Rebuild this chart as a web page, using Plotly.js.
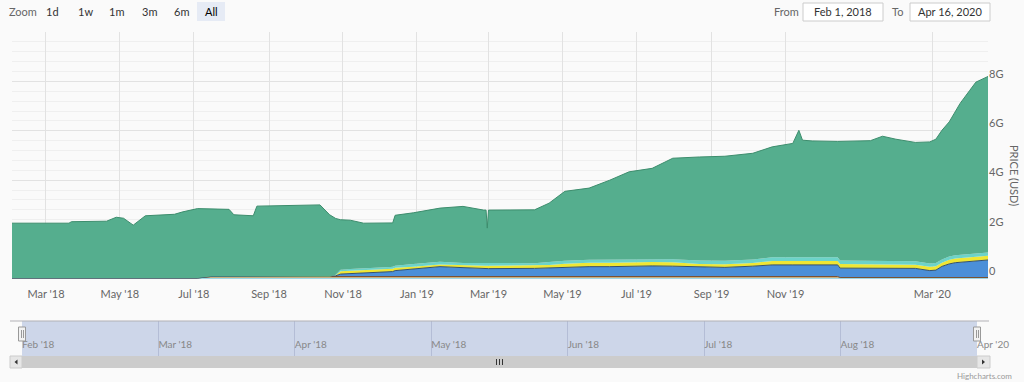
<!DOCTYPE html>
<html><head><meta charset="utf-8">
<script src="https://cdn.plot.ly/plotly-3.0.1.min.js"></script>
<style>html,body{margin:0;padding:0;background:#fafafa;} #chart{width:1024px;height:382px;}</style>
</head><body><div id="chart"></div>
<script>
// ---- data (values in billions USD) ----
const dates = ["2018-02-01","2018-03-20","2018-03-22","2018-04-20","2018-04-28","2018-05-04","2018-05-12","2018-05-18","2018-05-22","2018-06-15","2018-06-22","2018-07-04","2018-07-15","2018-07-30","2018-08-03","2018-08-19","2018-08-22","2018-09-15","2018-10-13","2018-10-21","2018-10-26","2018-10-30","2018-11-07","2018-11-18","2018-12-10","2018-12-12","2018-12-14","2018-12-29","2019-01-20","2019-02-08","2019-02-25","2019-02-27","2019-02-28","2019-03-01","2019-04-08","2019-04-20","2019-05-03","2019-05-23","2019-06-09","2019-06-25","2019-07-14","2019-07-31","2019-08-22","2019-09-12","2019-10-05","2019-10-21","2019-11-07","2019-11-12","2019-11-15","2019-11-23","2019-12-14","2019-12-16","2020-01-10","2020-01-20","2020-01-31","2020-02-16","2020-02-28","2020-03-04","2020-03-09","2020-03-15","2020-03-20","2020-03-24","2020-04-01","2020-04-06","2020-04-16"];
const baseSeries = [0.04,0.04,0.04,0.04,0.04,0.04,0.04,0.04,0.04,0.04,0.04,0.04,0.04,0.04,0.04,0.04,0.04,0.04,0.04,0.04,0.04,0.04,0.04,0.04,0.04,0.04,0.04,0.04,0.04,0.04,0.04,0.04,0.04,0.04,0.04,0.04,0.04,0.04,0.04,0.04,0.04,0.04,0.04,0.04,0.04,0.04,0.04,0.04,0.04,0.04,0.04,0.04,0.04,0.04,0.04,0.04,0.04,0.04,0.04,0.04,0.04,0.04,0.04,0.04,0.04];
const orangeSeries = [0,0,0,0,0,0,0,0,0,0,0,0,0.06,0.06,0.06,0.06,0.06,0.06,0.06,0.06,0.06,0.06,0.06,0.06,0.06,0.06,0.06,0.06,0.06,0.06,0.06,0.06,0.06,0.06,0.06,0.06,0.06,0.06,0.06,0.06,0.06,0.06,0.06,0.06,0.06,0.06,0.06,0.06,0.06,0.06,0.06,0.02,0.02,0.02,0.02,0.02,0.02,0.02,0.02,0.02,0.02,0.02,0.02,0.02,0.02];
const blueSeries = [0,0,0,0,0,0,0,0,0,0,0,0,0,0,0,0,0,0,0,0,0.03,0.10,0.12,0.14,0.20,0.20,0.24,0.30,0.40,0.36,0.32,0.32,0.32,0.32,0.33,0.35,0.38,0.40,0.40,0.42,0.43,0.42,0.38,0.37,0.42,0.47,0.47,0.47,0.47,0.47,0.47,0.38,0.38,0.38,0.37,0.37,0.28,0.30,0.45,0.55,0.60,0.62,0.65,0.68,0.71];
const yellowSeries = [0,0,0,0,0,0,0,0,0,0,0,0,0,0,0,0,0,0,0,0,0.02,0.11,0.11,0.11,0.12,0.12,0.12,0.10,0.09,0.09,0.12,0.12,0.12,0.12,0.11,0.12,0.14,0.16,0.16,0.16,0.16,0.16,0.13,0.13,0.13,0.16,0.16,0.16,0.16,0.16,0.16,0.17,0.15,0.15,0.15,0.15,0.16,0.16,0.15,0.17,0.17,0.17,0.17,0.17,0.17];
const cyanSeries = [0,0,0,0,0,0,0,0,0,0,0,0,0,0,0,0,0,0,0,0,0.02,0.06,0.07,0.07,0.07,0.08,0.08,0.11,0.11,0.10,0.10,0.10,0.10,0.10,0.10,0.12,0.12,0.12,0.12,0.12,0.12,0.12,0.14,0.14,0.14,0.15,0.15,0.15,0.15,0.15,0.15,0.14,0.14,0.14,0.14,0.14,0.13,0.13,0.13,0.13,0.13,0.13,0.13,0.13,0.13];
const greenSeries = [2.22,2.22,2.28,2.30,2.46,2.42,2.14,2.36,2.52,2.58,2.68,2.81,2.74,2.72,2.50,2.46,2.85,2.87,2.90,2.50,2.28,2.03,1.98,1.84,1.78,1.77,2.04,2.07,2.17,2.29,2.15,2.15,1.42,2.15,2.16,2.38,2.81,2.90,3.22,3.54,3.67,4.09,4.19,4.23,4.30,4.47,4.61,5.14,4.74,4.71,4.69,4.82,4.87,5.05,4.94,4.81,4.92,5.01,5.23,5.45,5.80,6.13,6.63,6.93,7.13];

const xTickVals = ["2018-03-01","2018-05-01","2018-07-01","2018-09-01","2018-11-01","2019-01-01","2019-03-01","2019-05-01","2019-07-01","2019-09-01","2019-11-01","2020-03-01"];
const xTickText = ["Mar '18","May '18","Jul '18","Sep '18","Nov '18","Jan '19","Mar '19","May '19","Jul '19","Sep '19","Nov '19","Mar '20"];
const yTickVals = [0,2,4,6,8,10];
const yTickText = ["0","2G","4G","6G","8G",""];
const navTickVals = [0,1,2,3,4,5,6,7];
const navTickText = ["Feb '18","Mar '18","Apr '18","May '18","Jun '18","Jul '18","Aug '18","Apr '20"];
const zoomButtons = ["1d","1w","1m","3m","6m","All"];
const fromText = "Feb 1, 2018";
const toText = "Apr 16, 2020";

// ---- layout helpers (pixel -> paper) ----
const L = 12, R = 36, T = 32, B = 14, W = 1024, H = 382;
const PW = W - L - R, PH = H - T - B;
const px = X => (X - L) / PW;
const py = Y => (H - B - Y) / PH;

const FONT = "Lato, Liberation Sans, sans-serif";

function layer(y, name, fill, line, lw) {
  return {x: dates, y: y, name: name, type: 'scatter', mode: 'lines', stackgroup: 'one',
    fillcolor: fill, line: {color: line, width: lw}, hoverinfo: 'skip', xaxis: 'x', yaxis: 'y'};
}
const traces = [
  layer(baseSeries, 'base', '#a6dbe8', '#8fcfe0', 0.5),
  layer(orangeSeries, 'orange', '#e3a866', '#7a5230', 1),
  layer(blueSeries, 'blue', '#4b8fd8', '#34506e', 1),
  layer(yellowSeries, 'yellow', '#efe634', '#e0d62a', 0),
  layer(cyanSeries, 'cyan', '#6cd3c9', '#62cabf', 0),
  layer(greenSeries, 'green', '#55ae8e', '#3d8d6d', 1),
  // empty navigator trace so the navigator axes exist
  {x: [], y: [], type: 'scatter', mode: 'lines', xaxis: 'x2', yaxis: 'y2', hoverinfo: 'skip', showlegend: false}
];

const shapes = [];
const annotations = [];

// navigator mask
shapes.push({type:'rect', xref:'x2 domain', yref:'y2 domain', x0:0, x1:1, y0:0, y1:1,
  fillcolor:'rgba(102,133,194,0.3)', line:{width:0}, layer:'below'});
// navigator outline
shapes.push({type:'line', xref:'paper', yref:'paper', x0:px(10), x1:px(989), y0:py(321), y1:py(321), line:{color:'#b2b1b6', width:1}});
// scrollbar
shapes.push({type:'rect', xref:'paper', yref:'paper', x0:px(10), x1:px(990), y0:py(368), y1:py(356), fillcolor:'#f2f2f2', line:{width:0}});
shapes.push({type:'rect', xref:'paper', yref:'paper', x0:px(22), x1:px(977), y0:py(368), y1:py(356), fillcolor:'#cccccc', line:{width:0}});
shapes.push({type:'rect', xref:'paper', yref:'paper', x0:px(10), x1:px(22), y0:py(368), y1:py(356), fillcolor:'#e6e6e6', line:{color:'#cccccc', width:1}});
shapes.push({type:'rect', xref:'paper', yref:'paper', x0:px(977), x1:px(990), y0:py(368), y1:py(356), fillcolor:'#e6e6e6', line:{color:'#cccccc', width:1}});
shapes.push({type:'path', xref:'paper', yref:'paper', path:`M ${px(17.5)} ${py(359.5)} L ${px(17.5)} ${py(364.5)} L ${px(14.5)} ${py(362)} Z`, fillcolor:'#333', line:{width:0}});
shapes.push({type:'path', xref:'paper', yref:'paper', path:`M ${px(982)} ${py(359.5)} L ${px(982)} ${py(364.5)} L ${px(985)} ${py(362)} Z`, fillcolor:'#333', line:{width:0}});
[496.5, 499.5, 502.5].forEach(xg => shapes.push({type:'line', xref:'paper', yref:'paper', x0:px(xg), x1:px(xg), y0:py(359), y1:py(365), line:{color:'#333', width:1}}));
// navigator handles
[22, 977].forEach(xh => {
  shapes.push({type:'rect', xref:'paper', yref:'paper', x0:px(xh-3.5), x1:px(xh+3.5), y0:py(341), y1:py(327), fillcolor:'#f2f2f2', line:{color:'#999', width:1}});
  shapes.push({type:'line', xref:'paper', yref:'paper', x0:px(xh-0.5), x1:px(xh-0.5), y0:py(338), y1:py(330), line:{color:'#999', width:1}});
  shapes.push({type:'line', xref:'paper', yref:'paper', x0:px(xh+1.5), x1:px(xh+1.5), y0:py(338), y1:py(330), line:{color:'#999', width:1}});
});
// range selector
shapes.push({type:'rect', xref:'paper', yref:'paper', x0:px(197), x1:px(225), y0:py(21), y1:py(2), fillcolor:'#e6ebf5', line:{width:0}});
shapes.push({type:'rect', xref:'paper', yref:'paper', x0:px(803), x1:px(883), y0:py(21), y1:py(3), fillcolor:'#ffffff', line:{color:'#cccccc', width:1}});
shapes.push({type:'rect', xref:'paper', yref:'paper', x0:px(910), x1:px(990), y0:py(21), y1:py(3), fillcolor:'#ffffff', line:{color:'#cccccc', width:1}});

function txt(text, X, Y, size, color, extra) {
  annotations.push(Object.assign({text:text, xref:'paper', yref:'paper', x:px(X), y:py(Y), showarrow:false,
    xanchor:'center', yanchor:'middle', font:{family:FONT, size:size, color:color}}, extra||{}));
}
txt('Zoom', 23, 12, 11, '#666');
const btnX = [52, 85, 116, 149, 181, 211];
zoomButtons.forEach((b, i) => txt(b, btnX[i], 12, 11, i === 5 ? '#000' : '#333'));
txt('From', 786, 12, 11, '#666');
txt(fromText, 843, 12, 11, '#333');
txt('To', 897, 12, 11, '#666');
txt(toText, 950, 12, 11, '#333');
txt('PRICE (USD)', 1015, 175, 11, '#666', {textangle: 90});
txt('Highcharts.com', 984, 376, 8, '#999');

const layout = {
  width: W, height: H,
  margin: {l: L, r: R, t: T, b: B, pad: 0},
  paper_bgcolor: '#fafafa', plot_bgcolor: 'rgba(0,0,0,0)',
  showlegend: false,
  font: {family: FONT, color: '#666'},
  xaxis: {type: 'date', domain: [0, 1], anchor: 'y', range: [dates[0], dates[dates.length - 1]],
    tickmode: 'array', tickvals: xTickVals, ticktext: xTickText,
    showgrid: true, gridcolor: '#e2e2e2', gridwidth: 1, zeroline: false, showline: false, ticks: '',
    tickfont: {family: FONT, size: 11, color: '#666'}, ticklabelstandoff: 7, fixedrange: true},
  yaxis: {domain: [py(279), 1], anchor: 'x', side: 'right', range: [0, 10],
    tickmode: 'array', tickvals: yTickVals, ticktext: yTickText,
    showgrid: true, gridcolor: '#e2e2e2', zeroline: false, showline: false, ticks: '',
    minor: {tick0: 0, dtick: 0.4, showgrid: true, gridcolor: '#efefef', ticks: ''},
    ticklabelposition: 'outside top', tickfont: {family: FONT, size: 11, color: '#666'}, fixedrange: true},
  xaxis2: {domain: [px(22), px(977)], anchor: 'y2', range: [0, 7],
    tickmode: 'array', tickvals: navTickVals, ticktext: navTickText,
    showgrid: true, gridcolor: 'rgba(150,160,190,0.45)', zeroline: false, showline: false, ticks: '',
    ticklabelposition: 'inside right', ticklabeloverflow: 'allow',
    tickfont: {family: FONT, size: 10, color: '#888'}, fixedrange: true},
  yaxis2: {domain: [py(356), py(321)], anchor: 'x2', range: [0, 1],
    showgrid: false, zeroline: false, showticklabels: false, showline: false, ticks: '', fixedrange: true},
  shapes: shapes,
  annotations: annotations
};

Plotly.newPlot('chart', traces, layout, {displayModeBar: false, staticPlot: true});
</script></body></html>
